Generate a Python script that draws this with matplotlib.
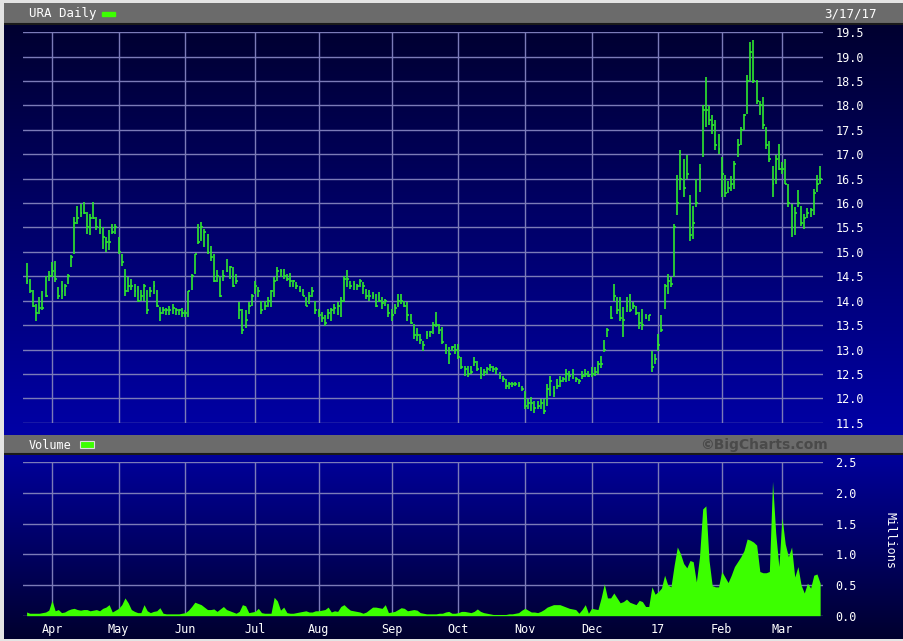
import numpy as np
import pandas as pd
import matplotlib
matplotlib.use('Agg')
import matplotlib.pyplot as plt
from matplotlib.colors import LinearSegmentedColormap
from matplotlib.patches import Rectangle

# trading days, URA daily, 3/21/16 - 3/17/17
holidays = ['2016-03-25', '2016-05-30', '2016-07-04', '2016-09-05', '2016-11-24',
            '2016-12-26', '2017-01-02', '2017-01-16', '2017-02-20']
dates = pd.bdate_range('2016-03-21', '2017-03-17', freq='C', holidays=holidays)

high = [14.77, 14.45, 14.21, 13.93, 14.07, 14.20, 14.50, 14.60, 14.79, 14.82,
        14.28, 14.41, 14.34, 14.55, 14.93, 15.71, 15.95, 15.98, 16.02, 15.81,
        15.78, 16.02, 15.71, 15.68, 15.51, 15.30, 15.44, 15.58, 15.58, 15.30,
        14.96, 14.65, 14.48, 14.45, 14.34, 14.31, 14.21, 14.34, 14.21, 14.28,
        14.41, 14.21, 13.87, 13.87, 13.86, 13.90, 13.93, 13.86, 13.83, 13.86,
        13.80, 14.20, 14.55, 14.96, 15.57, 15.61, 15.47, 15.37, 15.13, 14.96,
        14.62, 14.48, 14.62, 14.86, 14.72, 14.69, 14.55, 13.97, 13.83, 13.80,
        13.97, 14.14, 14.41, 14.28, 14.00, 14.00, 14.07, 14.21, 14.48, 14.69,
        14.66, 14.66, 14.55, 14.56, 14.42, 14.38, 14.31, 14.24, 14.07, 14.17,
        14.28, 14.00, 13.83, 13.76, 13.70, 13.83, 13.86, 13.93, 13.97, 14.07,
        14.50, 14.62, 14.41, 14.41, 14.34, 14.45, 14.38, 14.24, 14.21, 14.17,
        14.14, 14.17, 14.07, 14.04, 13.93, 13.83, 13.93, 14.14, 14.14, 14.00,
        13.97, 13.73, 13.52, 13.45, 13.32, 13.18, 13.38, 13.38, 13.56, 13.76,
        13.52, 13.46, 13.11, 13.05, 13.08, 13.11, 13.11, 12.84, 12.67, 12.67,
        12.67, 12.84, 12.77, 12.64, 12.60, 12.64, 12.70, 12.67, 12.64, 12.53,
        12.46, 12.40, 12.33, 12.33, 12.33, 12.33, 12.26, 12.16, 11.99, 12.02,
        11.95, 11.95, 11.99, 11.99, 12.29, 12.46, 12.26, 12.40, 12.46, 12.43,
        12.60, 12.57, 12.60, 12.43, 12.40, 12.57, 12.60, 12.57, 12.64, 12.64,
        12.77, 12.87, 13.20, 13.45, 13.90, 14.34, 14.07, 14.07, 13.87, 14.07,
        14.14, 13.97, 13.90, 13.76, 13.83, 13.73, 13.70, 12.98, 12.91, 13.32,
        13.70, 14.34, 14.55, 14.48, 15.58, 16.57, 17.08, 16.91, 16.98, 16.16,
        15.95, 16.50, 16.81, 18.00, 18.58, 17.99, 17.80, 17.70, 17.42, 16.94,
        16.57, 16.45, 16.55, 16.87, 17.32, 17.55, 17.83, 18.62, 19.30, 19.35,
        18.52, 18.10, 18.17, 17.56, 17.28, 16.77, 16.98, 17.22, 16.85, 16.91,
        16.40, 15.99, 15.92, 16.26, 15.95, 15.78, 15.90, 15.90, 16.29, 16.57,
        16.77]

low = [14.34, 14.15, 13.87, 13.59, 13.73, 13.80, 14.07, 14.40, 14.48, 14.38,
       14.04, 14.04, 14.10, 14.34, 14.69, 14.96, 15.57, 15.71, 15.78, 15.37,
       15.34, 15.68, 15.44, 15.37, 15.06, 15.00, 15.03, 15.37, 15.37, 14.96,
       14.72, 14.10, 14.17, 14.21, 14.07, 13.97, 14.00, 14.00, 13.73, 14.07,
       14.14, 13.87, 13.59, 13.73, 13.70, 13.70, 13.73, 13.70, 13.70, 13.66,
       13.66, 13.66, 14.21, 14.55, 15.16, 15.23, 15.10, 14.96, 14.82, 14.38,
       14.38, 14.07, 14.41, 14.58, 14.45, 14.28, 14.34, 13.63, 13.32, 13.45,
       13.73, 13.90, 14.14, 14.07, 13.73, 13.80, 13.87, 13.87, 14.07, 14.41,
       14.48, 14.45, 14.41, 14.28, 14.28, 14.24, 14.17, 14.10, 13.90, 13.93,
       14.07, 13.73, 13.66, 13.56, 13.49, 13.63, 13.59, 13.73, 13.70, 13.66,
       13.97, 14.28, 14.24, 14.21, 14.21, 14.28, 14.14, 14.04, 14.00, 14.04,
       13.87, 13.97, 13.83, 13.90, 13.66, 13.59, 13.73, 13.87, 13.93, 13.87,
       13.59, 13.52, 13.22, 13.18, 13.11, 12.98, 13.22, 13.25, 13.32, 13.46,
       13.32, 13.11, 12.91, 12.70, 12.98, 12.91, 12.80, 12.60, 12.46, 12.43,
       12.50, 12.67, 12.57, 12.40, 12.46, 12.50, 12.56, 12.53, 12.50, 12.40,
       12.33, 12.19, 12.19, 12.23, 12.26, 12.23, 12.16, 11.78, 11.78, 11.75,
       11.71, 11.78, 11.78, 11.68, 11.85, 12.05, 12.02, 12.19, 12.23, 12.33,
       12.33, 12.36, 12.40, 12.33, 12.29, 12.40, 12.43, 12.43, 12.43, 12.46,
       12.50, 12.63, 12.94, 13.25, 13.63, 14.00, 13.73, 13.59, 13.25, 13.76,
       13.76, 13.83, 13.70, 13.42, 13.39, 13.63, 13.59, 12.53, 12.70, 12.96,
       13.35, 13.83, 14.14, 14.28, 14.48, 15.75, 16.26, 16.12, 16.50, 15.23,
       15.27, 15.92, 16.22, 16.95, 17.56, 17.59, 17.42, 17.08, 17.01, 16.12,
       16.12, 16.20, 16.25, 16.29, 16.94, 17.20, 17.49, 17.83, 18.50, 18.45,
       18.04, 17.80, 17.52, 17.11, 16.84, 16.12, 16.40, 16.67, 16.60, 16.40,
       15.92, 15.30, 15.34, 15.92, 15.54, 15.47, 15.70, 15.72, 15.75, 16.22,
       16.40]

close = [14.40, 14.20, 13.90, 13.75, 13.85, 13.85, 14.10, 14.50, 14.60, 14.45,
         14.10, 14.20, 14.30, 14.50, 14.90, 15.60, 15.70, 15.80, 15.80, 15.50,
         15.70, 15.70, 15.50, 15.50, 15.30, 15.20, 15.20, 15.40, 15.50, 15.00,
         14.80, 14.20, 14.30, 14.30, 14.20, 14.00, 14.10, 14.30, 13.80, 14.20,
         14.30, 13.90, 13.75, 13.80, 13.80, 13.80, 13.85, 13.80, 13.80, 13.75,
         13.75, 14.20, 14.50, 14.95, 15.20, 15.50, 15.40, 15.00, 14.90, 14.40,
         14.50, 14.10, 14.50, 14.60, 14.70, 14.30, 14.40, 13.80, 13.40, 13.60,
         13.90, 14.10, 14.30, 14.20, 13.80, 13.90, 14.00, 14.20, 14.40, 14.60,
         14.60, 14.50, 14.45, 14.40, 14.40, 14.30, 14.20, 14.10, 13.90, 14.10,
         14.20, 13.80, 13.70, 13.65, 13.55, 13.75, 13.80, 13.85, 13.90, 14.00,
         14.45, 14.45, 14.30, 14.35, 14.30, 14.40, 14.30, 14.10, 14.10, 14.10,
         13.90, 14.00, 13.95, 14.00, 13.75, 13.70, 13.85, 14.00, 14.00, 13.90,
         13.70, 13.55, 13.30, 13.30, 13.20, 13.10, 13.30, 13.35, 13.50, 13.50,
         13.40, 13.15, 13.00, 12.90, 13.05, 13.00, 12.85, 12.65, 12.60, 12.50,
         12.55, 12.75, 12.60, 12.50, 12.55, 12.60, 12.65, 12.60, 12.60, 12.45,
         12.40, 12.25, 12.30, 12.30, 12.30, 12.28, 12.20, 11.85, 11.90, 11.90,
         11.80, 11.85, 11.90, 11.75, 12.20, 12.35, 12.10, 12.25, 12.35, 12.40,
         12.50, 12.45, 12.50, 12.40, 12.35, 12.45, 12.50, 12.45, 12.50, 12.55,
         12.70, 12.70, 13.00, 13.40, 13.65, 14.10, 13.80, 13.65, 13.60, 13.90,
         13.80, 13.90, 13.75, 13.55, 13.50, 13.65, 13.70, 12.65, 12.80, 13.10,
         13.40, 14.30, 14.40, 14.35, 15.50, 16.00, 16.50, 16.30, 16.60, 15.35,
         15.60, 16.00, 16.70, 17.90, 17.90, 17.70, 17.60, 17.20, 17.10, 16.60,
         16.20, 16.30, 16.40, 16.80, 17.20, 17.50, 17.80, 18.50, 19.10, 18.50,
         18.10, 18.00, 17.60, 17.20, 16.90, 16.40, 16.90, 16.70, 16.70, 16.40,
         16.00, 15.50, 15.80, 16.00, 15.60, 15.70, 15.80, 15.85, 16.20, 16.40,
         16.50]

# millions of shares
volume = [0.06, 0.04, 0.04, 0.04, 0.04, 0.05, 0.06, 0.09, 0.25, 0.08,
          0.10, 0.05, 0.06, 0.09, 0.11, 0.12, 0.10, 0.09, 0.10, 0.10,
          0.08, 0.09, 0.10, 0.08, 0.12, 0.14, 0.18, 0.06, 0.09, 0.12,
          0.18, 0.29, 0.21, 0.10, 0.07, 0.05, 0.05, 0.18, 0.08, 0.05,
          0.07, 0.08, 0.13, 0.04, 0.03, 0.03, 0.03, 0.03, 0.03, 0.04,
          0.05, 0.09, 0.15, 0.22, 0.20, 0.18, 0.14, 0.10, 0.10, 0.11,
          0.07, 0.11, 0.15, 0.10, 0.08, 0.06, 0.04, 0.07, 0.18, 0.16,
          0.05, 0.06, 0.07, 0.12, 0.05, 0.04, 0.04, 0.04, 0.30, 0.24,
          0.09, 0.14, 0.05, 0.04, 0.04, 0.05, 0.06, 0.07, 0.08, 0.06,
          0.06, 0.08, 0.08, 0.09, 0.10, 0.14, 0.06, 0.08, 0.07, 0.15,
          0.18, 0.13, 0.09, 0.08, 0.07, 0.06, 0.04, 0.06, 0.10, 0.14,
          0.14, 0.13, 0.12, 0.18, 0.05, 0.06, 0.07, 0.10, 0.13, 0.12,
          0.08, 0.09, 0.10, 0.09, 0.05, 0.04, 0.03, 0.03, 0.03, 0.03,
          0.04, 0.04, 0.06, 0.07, 0.04, 0.04, 0.05, 0.07, 0.07, 0.06,
          0.05, 0.07, 0.11, 0.07, 0.05, 0.04, 0.03, 0.02, 0.02, 0.02,
          0.02, 0.02, 0.03, 0.03, 0.04, 0.05, 0.09, 0.12, 0.09, 0.06,
          0.06, 0.05, 0.07, 0.10, 0.14, 0.16, 0.18, 0.18, 0.18, 0.16,
          0.14, 0.12, 0.11, 0.10, 0.04, 0.10, 0.18, 0.04, 0.12, 0.11,
          0.10, 0.29, 0.52, 0.29, 0.29, 0.37, 0.29, 0.21, 0.23, 0.27,
          0.22, 0.20, 0.18, 0.25, 0.23, 0.15, 0.15, 0.47, 0.35, 0.39,
          0.45, 0.66, 0.50, 0.47, 0.82, 1.12, 1.01, 0.85, 0.78, 0.90,
          0.88, 0.55, 0.96, 1.74, 1.79, 0.90, 0.49, 0.47, 0.47, 0.72,
          0.63, 0.54, 0.66, 0.80, 0.88, 0.96, 1.06, 1.25, 1.23, 1.20,
          1.15, 0.72, 0.70, 0.70, 0.72, 2.19, 1.35, 0.80, 1.60, 1.17,
          0.96, 1.12, 0.63, 0.80, 0.50, 0.37, 0.53, 0.45, 0.66, 0.68,
          0.53]

price_ticks = [11.5, 12.0, 12.5, 13.0, 13.5, 14.0, 14.5, 15.0, 15.5,
               16.0, 16.5, 17.0, 17.5, 18.0, 18.5, 19.0, 19.5]
volume_ticks = [0.0, 0.5, 1.0, 1.5, 2.0, 2.5]
month_labels = ['Apr', 'May', 'Jun', 'Jul', 'Aug', 'Sep', 'Oct', 'Nov', 'Dec', '17', 'Feb', 'Mar']

green = '#2ee82e'
lime = '#3cff00'
grid_col = '#7b7bb8'
mono = 'DejaVu Sans Mono'

W, H = 904, 641


def box(x0, y0, x1, y1):
    # pixel box (top-left origin) -> figure fraction
    return [x0 / W, 1 - y1 / H, (x1 - x0) / W, (y1 - y0) / H]


fig = plt.figure(figsize=(W / 100, H / 100), dpi=100, facecolor='#e4e4e4')


def gradient(rect, top, bottom):
    ax = fig.add_axes(box(*rect))
    cmap = LinearSegmentedColormap.from_list('bg', [top, bottom])
    ax.imshow(np.linspace(0, 1, 256).reshape(-1, 1), aspect='auto', cmap=cmap,
              extent=[0, 1, 0, 1])
    ax.set_axis_off()
    return ax


def header(rect):
    ax = fig.add_axes(box(*rect))
    ax.set_facecolor('#6b6b6b')
    ax.set_xlim(0, W)
    ax.set_ylim(rect[3], rect[1])
    ax.set_xticks([])
    ax.set_yticks([])
    for s in ax.spines.values():
        s.set_visible(False)
    ax.axhline(rect[3] - 1, color='#1a1a1a', lw=1.5)
    return ax


gradient((4, 25, 904, 435), '#000030', '#0000a6')
gradient((4, 455, 904, 639), '#00009a', '#00002e')

h1 = header((4, 3, 904, 25))
h1.text(25, 14, 'URA Daily', family=mono, size=9, color='white', va='center')
h1.add_patch(Rectangle((98, 12), 13, 4, color=lime))
h1.text(877, 14, '3/17/17', family=mono, size=9, color='white', va='center', ha='right')

h2 = header((4, 435, 904, 455))
h2.text(25, 445, 'Volume', family=mono, size=8.5, color='white', va='center')
h2.add_patch(Rectangle((76, 441), 14, 7, facecolor=lime, edgecolor='#dddddd', lw=0.8))
h2.text(828, 445, '\u00a9BigCharts.com', family=['Liberation Sans Narrow', 'DejaVu Sans'],
        weight='bold', size=10, color='#4a4a4a', va='center', ha='right')

x = np.arange(len(dates))
month_pos = [i for i in range(1, len(dates)) if dates[i].month != dates[i - 1].month]

# price panel
ax = fig.add_axes(box(23, 32, 823, 423))
ax.set_facecolor('none')
ax.vlines(x, low, high, color=green, lw=1.2)
ax.hlines(close, x, x + 0.6, color=green, lw=1.2)
ax.set_xlim(-1.13, 250.9)
ax.set_ylim(11.495, 19.505)
ax.set_yticks(price_ticks)
ax.set_yticklabels(['%.1f' % t for t in price_ticks], family=mono)
ax.yaxis.tick_right()
ax.set_xticks(month_pos)
ax.set_xticklabels([])
ax.tick_params(length=0, pad=9, labelcolor='white', labelsize=8.5)
ax.grid(True, color=grid_col, lw=1.0)
ax.set_axisbelow(True)
for s in ax.spines.values():
    s.set_visible(False)

# volume panel
av = fig.add_axes(box(23, 462, 823, 616))
av.set_facecolor('none')
av.fill_between(x, volume, color=lime, lw=0)
av.set_xlim(-1.13, 250.9)
av.set_ylim(-0.005, 2.505)
av.set_yticks(volume_ticks)
av.set_yticklabels(['%.1f' % t for t in volume_ticks], family=mono)
av.yaxis.tick_right()
av.set_xticks(month_pos)
av.set_xticklabels(month_labels, family=mono)
av.tick_params(length=0, labelcolor='white', labelsize=8.5)
av.tick_params(axis='y', pad=9)
av.tick_params(axis='x', pad=5)
av.grid(True, color=grid_col, lw=1.0)
av.set_axisbelow(True)
for s in av.spines.values():
    s.set_visible(False)

fig.text(890 / W, 1 - 540 / H, 'Millions', family=mono, size=8.5, color='white',
         rotation=270, ha='center', va='center')

fig.savefig('out.png', dpi=100, facecolor=fig.get_facecolor())
